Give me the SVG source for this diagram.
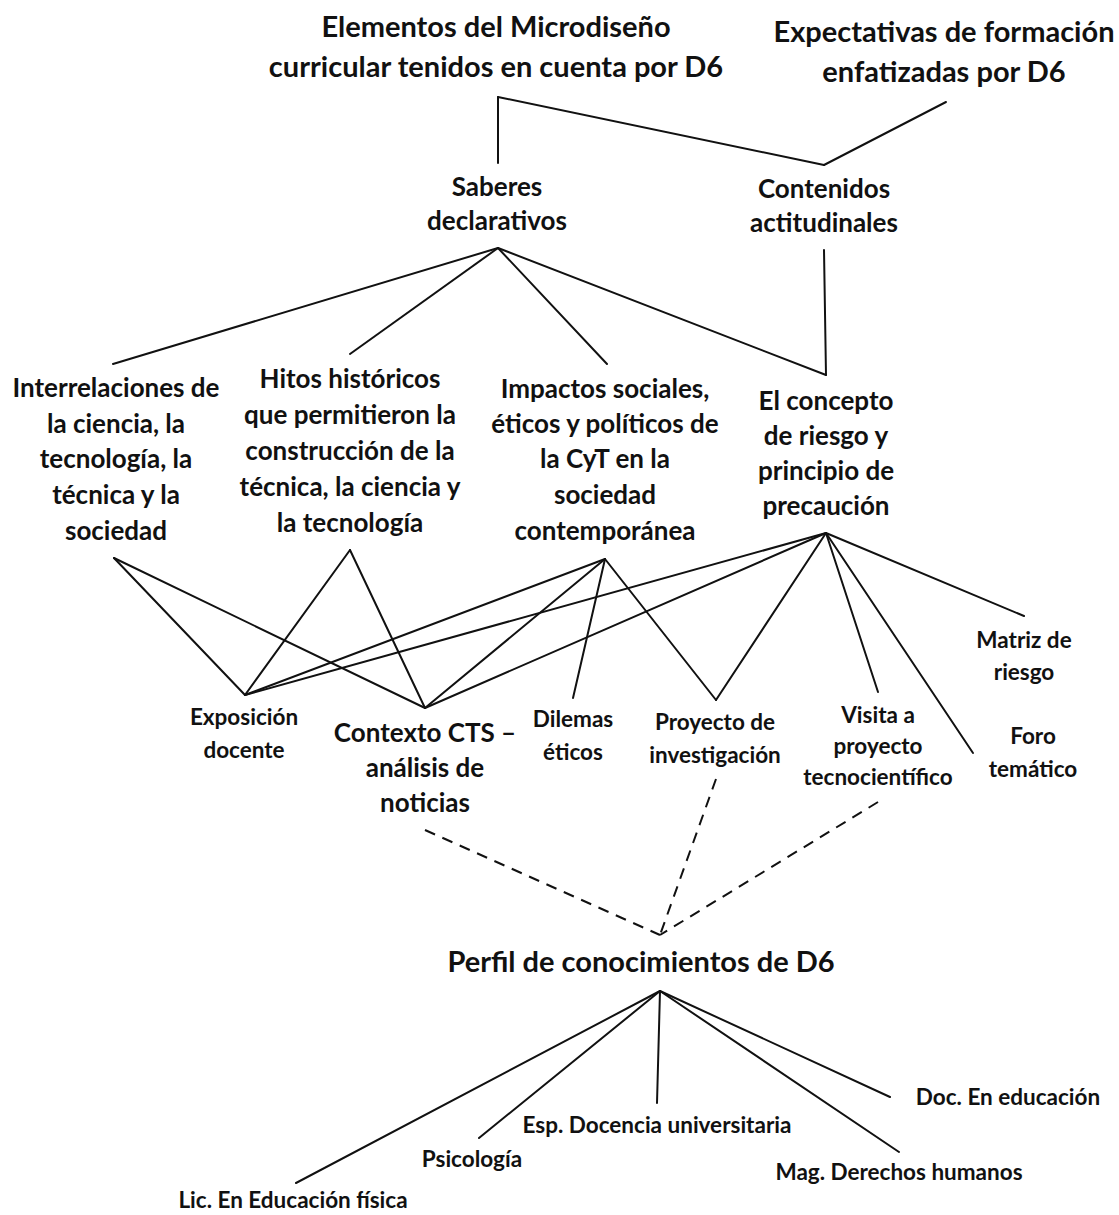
<svg xmlns="http://www.w3.org/2000/svg" width="1119" height="1215" viewBox="0 0 1119 1215">
  <style>
    text { font-family: Lato, "Liberation Sans", sans-serif; font-weight: 700; fill: #111; text-anchor: middle; }
    .title { font-size: 29px; }
    .mid { font-size: 26px; }
    .node { font-size: 26px; }
    .small { font-size: 22.5px; }
    .perfil { font-size: 29px; }
    .edge { stroke: #111; stroke-width: 2; fill: none; stroke-linecap: round; }
    .dash { stroke-dasharray: 11 8; stroke-linecap: butt; }
  </style>
  <rect width="1119" height="1215" fill="#fff"/>

  <g id="connectors">
    <!-- top level -->
    <line class="edge" x1="498" y1="97" x2="498" y2="163"/>
    <line class="edge" x1="498" y1="97" x2="824" y2="165"/>
    <line class="edge" x1="824" y1="165" x2="946" y2="102"/>
    <line class="edge" x1="824" y1="250" x2="826" y2="375"/>
    <!-- saberes declarativos -->
    <line class="edge" x1="498" y1="248" x2="113" y2="364"/>
    <line class="edge" x1="498" y1="248" x2="350" y2="354"/>
    <line class="edge" x1="498" y1="248" x2="607" y2="364"/>
    <line class="edge" x1="498" y1="248" x2="826" y2="375"/>
    <!-- interrelaciones -->
    <line class="edge" x1="114" y1="558" x2="245" y2="695"/>
    <line class="edge" x1="114" y1="558" x2="425" y2="708"/>
    <!-- hitos -->
    <line class="edge" x1="350" y1="550" x2="245" y2="695"/>
    <line class="edge" x1="350" y1="550" x2="425" y2="708"/>
    <!-- impactos -->
    <line class="edge" x1="605" y1="559" x2="245" y2="695"/>
    <line class="edge" x1="605" y1="559" x2="425" y2="708"/>
    <line class="edge" x1="605" y1="559" x2="573" y2="698"/>
    <line class="edge" x1="605" y1="559" x2="716" y2="700"/>
    <!-- concepto de riesgo -->
    <line class="edge" x1="826" y1="533" x2="245" y2="695"/>
    <line class="edge" x1="826" y1="533" x2="425" y2="708"/>
    <line class="edge" x1="826" y1="533" x2="716" y2="700"/>
    <line class="edge" x1="826" y1="533" x2="878" y2="692"/>
    <line class="edge" x1="826" y1="533" x2="973" y2="753"/>
    <line class="edge" x1="826" y1="533" x2="1024" y2="616"/>
    <!-- dashed to profile -->
    <line class="edge dash" x1="425" y1="830" x2="660" y2="935"/>
    <line class="edge dash" x1="716" y1="779" x2="660" y2="935"/>
    <line class="edge dash" x1="878" y1="802" x2="660" y2="935"/>
    <!-- profile -->
    <line class="edge" x1="660" y1="991" x2="296" y2="1183"/>
    <line class="edge" x1="660" y1="991" x2="479" y2="1138"/>
    <line class="edge" x1="660" y1="991" x2="657" y2="1103"/>
    <line class="edge" x1="660" y1="991" x2="899" y2="1152"/>
    <line class="edge" x1="660" y1="991" x2="890" y2="1097"/>
  </g>

  <g id="elementos">
    <text class="title" x="496" y="37">Elementos del Microdiseño</text>
    <text class="title" x="496" y="77">curricular tenidos en cuenta por D6</text>
  </g>
  <g id="expectativas">
    <text class="title" x="944" y="42">Expectativas de formación</text>
    <text class="title" x="944" y="82">enfatizadas por D6</text>
  </g>
  <g id="saberes">
    <text class="mid" x="497" y="196">Saberes</text>
    <text class="mid" x="497" y="230">declarativos</text>
  </g>
  <g id="contenidos">
    <text class="mid" x="824" y="198">Contenidos</text>
    <text class="mid" x="824" y="232">actitudinales</text>
  </g>
  <g id="interrelaciones">
    <text class="node" x="116" y="397">Interrelaciones de</text>
    <text class="node" x="116" y="433">la ciencia, la</text>
    <text class="node" x="116" y="468">tecnología, la</text>
    <text class="node" x="116" y="504">técnica y la</text>
    <text class="node" x="116" y="540">sociedad</text>
  </g>
  <g id="hitos">
    <text class="node" x="350" y="388">Hitos históricos</text>
    <text class="node" x="350" y="424">que permitieron la</text>
    <text class="node" x="350" y="460">construcción de la</text>
    <text class="node" x="350" y="496">técnica, la ciencia y</text>
    <text class="node" x="350" y="532">la tecnología</text>
  </g>
  <g id="impactos">
    <text class="node" x="605" y="398">Impactos sociales,</text>
    <text class="node" x="605" y="433">éticos y políticos de</text>
    <text class="node" x="605" y="468">la CyT en la</text>
    <text class="node" x="605" y="504">sociedad</text>
    <text class="node" x="605" y="540">contemporánea</text>
  </g>
  <g id="concepto">
    <text class="node" x="826" y="410">El concepto</text>
    <text class="node" x="826" y="445">de riesgo y</text>
    <text class="node" x="826" y="480">principio de</text>
    <text class="node" x="826" y="515">precaución</text>
  </g>
  <g id="exposicion">
    <text class="small" x="244" y="725">Exposición</text>
    <text class="small" x="244" y="758">docente</text>
  </g>
  <g id="contexto">
    <text class="node" x="425" y="742">Contexto CTS –</text>
    <text class="node" x="425" y="777">análisis de</text>
    <text class="node" x="425" y="812">noticias</text>
  </g>
  <g id="dilemas">
    <text class="small" x="573" y="727">Dilemas</text>
    <text class="small" x="573" y="760">éticos</text>
  </g>
  <g id="proyecto">
    <text class="small" x="715" y="730">Proyecto de</text>
    <text class="small" x="715" y="763">investigación</text>
  </g>
  <g id="visita">
    <text class="small" x="878" y="723">Visita a</text>
    <text class="small" x="878" y="754">proyecto</text>
    <text class="small" x="878" y="785">tecnocientífico</text>
  </g>
  <g id="matriz">
    <text class="small" x="1024" y="648">Matriz de</text>
    <text class="small" x="1024" y="680">riesgo</text>
  </g>
  <g id="foro">
    <text class="small" x="1033" y="744">Foro</text>
    <text class="small" x="1033" y="777">temático</text>
  </g>
  <g id="perfil">
    <text class="perfil" x="641" y="972">Perfil de conocimientos de D6</text>
  </g>
  <g id="lic">
    <text class="small" x="293" y="1208">Lic. En Educación física</text>
  </g>
  <g id="psicologia">
    <text class="small" x="472" y="1167">Psicología</text>
  </g>
  <g id="esp">
    <text class="small" x="657" y="1133">Esp. Docencia universitaria</text>
  </g>
  <g id="mag">
    <text class="small" x="899" y="1180">Mag. Derechos humanos</text>
  </g>
  <g id="doc">
    <text class="small" x="1008" y="1105">Doc. En educación</text>
  </g>
</svg>
